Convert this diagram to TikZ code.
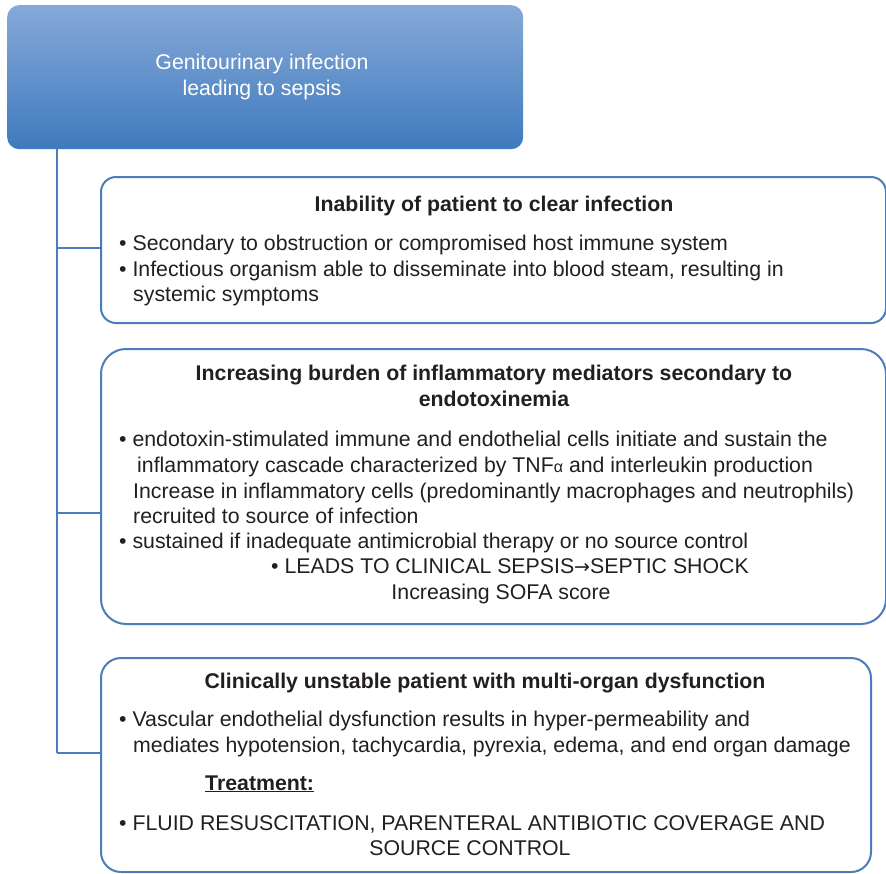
\documentclass[tikz,border=0pt]{standalone}
\usepackage{fontspec}
\setmainfont{Liberation Sans}
\newfontfamily\symfont{DejaVu Sans}
\begin{document}
\begin{tikzpicture}[x=1pt,y=-1pt,
  edge/.style={draw=lineblue, line width=2pt},
  panel/.style={draw=lineblue, line width=2pt, fill=white, anchor=north west, inner sep=0pt},
  txt/.style={inner sep=0pt, text=ink, font=\fontsize{21.3}{26}\selectfont},
  lefttxt/.style={txt, anchor=base west},
  midtxt/.style={txt, anchor=base},
  headtxt/.style={midtxt, font=\fontsize{21.3}{26}\selectfont\bfseries}]
\definecolor{lineblue}{HTML}{4A7DBA}
\definecolor{ink}{HTML}{231F20}
\definecolor{topblue}{HTML}{87A9D8}
\definecolor{botblue}{HTML}{3E7ABE}
\useasboundingbox (0,0) rectangle (886,873);

% heading block
\node[anchor=north west, minimum width=516pt, minimum height=144pt, inner sep=0pt,
  rounded corners=12pt, top color=topblue, bottom color=botblue] (top) at (7,5) {};
\node[txt, text=white, align=center, anchor=center] (toptext) at (262,77)
  {Genitourinary infection\\leading to sepsis};

% panels
\node[panel, rounded corners=15pt, minimum width=785pt, minimum height=146pt] (b1) at (100,176) {};
\node[panel, rounded corners=25pt, minimum width=785pt, minimum height=275pt] (b2) at (100,348) {};
\node[panel, rounded corners=20pt, minimum width=770pt, minimum height=214pt] (b3) at (100,657) {};

% tree connectors
\coordinate (j1) at (57,248);
\coordinate (j2) at (57,513);
\coordinate (j3) at (57,753);
\draw[edge] (top.south -| j1) -- (j3);
\draw[edge] (j1) -- (j1 -| b1.west);
\draw[edge] (j2) -- (j2 -| b2.west);
\draw[edge] (j3) -- (j3 -| b3.west);

% panel 1
\node[headtxt] (h1) at (494,211) {Inability of patient to clear infection};
\node[lefttxt] (p1a) at (119,250) {• Secondary to obstruction or compromised host immune system};
\node[lefttxt] (p1b) at (119,276) {• Infectious organism able to disseminate into blood steam, resulting in};
\node[lefttxt] (p1c) at (133,301) {systemic symptoms};

% panel 2
\node[headtxt] (h2a) at (494,380) {Increasing burden of inflammatory mediators secondary to};
\node[headtxt] (h2b) at (494,406) {endotoxinemia};
\node[lefttxt] (p2a) at (119,446) {• endotoxin-stimulated immune and endothelial cells initiate and sustain the};
\node[lefttxt] (p2b) at (137,472) {inflammatory cascade characterized by TNF{\fontsize{16}{20}\selectfont α} and interleukin production};
\node[lefttxt] (p2c) at (133,498) {Increase in inflammatory cells (predominantly macrophages and neutrophils)};
\node[lefttxt] (p2d) at (133,523) {recruited to source of infection};
\node[lefttxt] (p2e) at (119,548) {• sustained if inadequate antimicrobial therapy or no source control};
\node[midtxt] (p2f) at (510,573) {• LEADS TO CLINICAL SEPSIS{\symfont\fontsize{19}{20}\selectfont →}SEPTIC SHOCK};
\node[midtxt] (p2g) at (501,599) {Increasing SOFA score};

% panel 3
\node[headtxt] (h3) at (485,688) {Clinically unstable patient with multi-organ dysfunction};
\node[lefttxt] (p3a) at (119,726) {• Vascular endothelial dysfunction results in hyper-permeability and};
\node[lefttxt] (p3b) at (133,752) {mediates hypotension, tachycardia, pyrexia, edema, and end organ damage};
\node[lefttxt, font=\fontsize{21.3}{26}\selectfont\bfseries] (p3c) at (205,790) {\underline{Treatment:}};
\node[lefttxt] (p3d) at (119,830) {• FLUID RESUSCITATION, PARENTERAL ANTIBIOTIC COVERAGE AND};
\node[midtxt] (p3e) at (470,855) {SOURCE CONTROL};
\end{tikzpicture}
\end{document}
